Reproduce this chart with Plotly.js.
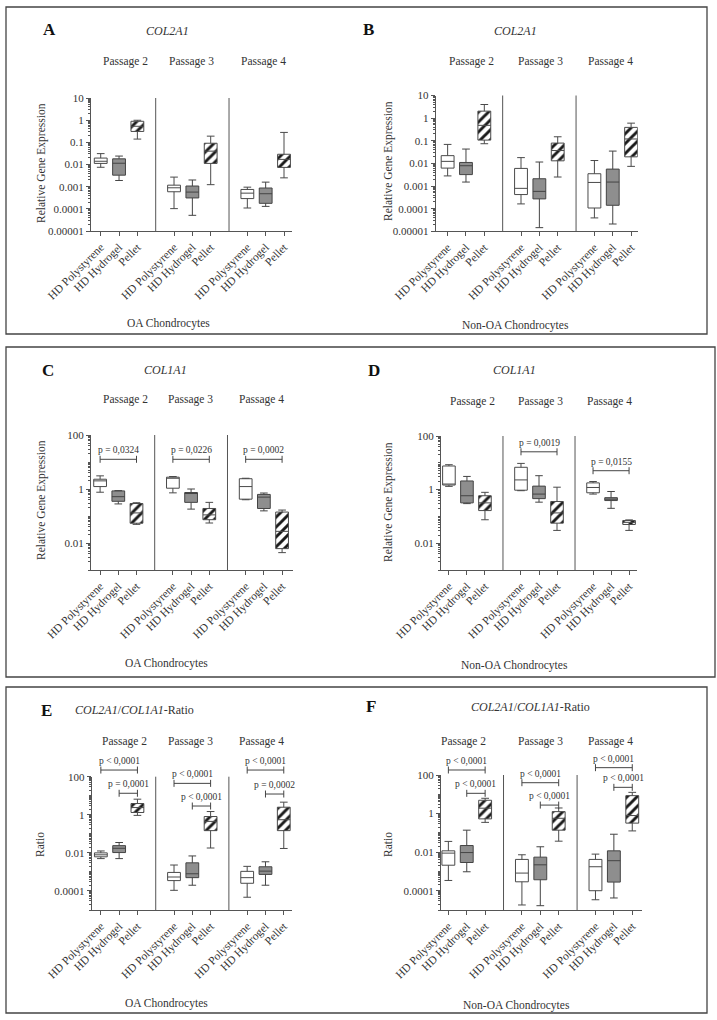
<!DOCTYPE html>
<html><head><meta charset="utf-8">
<script src="https://cdn.plot.ly/plotly-3.0.1.min.js"></script>
<style>html,body{margin:0;padding:0;background:#fff}#chart{width:717px;height:1020px}</style>
</head><body><div id="chart"></div>
<script>
// ---------------- data ----------------
const categories = ['HD Polystyrene', 'HD Hydrogel', 'Pellet'];
const passages = ['Passage 2', 'Passage 3', 'Passage 4'];
// each row: [lower whisker, Q1, median, Q3, upper whisker] for Passage 2, 3, 4

// A: COL2A1, OA chondrocytes
const A_polystyrene = [[0.0075, 0.0112, 0.014, 0.0195, 0.031], [0.000102, 0.00059, 0.00089, 0.00117, 0.0027], [0.000109, 0.00029, 0.00051, 0.00075, 0.00095]];
const A_hydrogel    = [[0.0019, 0.0033, 0.0114, 0.018, 0.024], [0.000051, 0.00031, 0.00057, 0.00107, 0.002], [0.000129, 0.000177, 0.00048, 0.00087, 0.0016]];
const A_pellet      = [[0.14, 0.31, 0.53, 0.89, 0.99], [0.00123, 0.0112, 0.04, 0.091, 0.19], [0.0025, 0.0074, 0.017, 0.029, 0.28]];
// B: COL2A1, non-OA chondrocytes
const B_polystyrene = [[0.0028, 0.0062, 0.0123, 0.022, 0.069], [0.000162, 0.00042, 0.00079, 0.006, 0.018], [0.000039, 0.000107, 0.00144, 0.0035, 0.0134]];
const B_hydrogel    = [[0.0015, 0.0032, 0.0079, 0.011, 0.043], [0.0000145, 0.00027, 0.00058, 0.0021, 0.0115], [0.000021, 0.000141, 0.0015, 0.0056, 0.035]];
const B_pellet      = [[0.074, 0.107, 0.48, 2.04, 4.0], [0.0025, 0.013, 0.037, 0.079, 0.15], [0.0074, 0.0195, 0.12, 0.39, 0.60]];
// C: COL1A1, OA chondrocytes
const C_polystyrene = [[0.76, 1.23, 2.0, 2.3, 3.07], [0.72, 1.07, 2.5, 2.74, 2.9], [0.40, 0.42, 1.23, 2.4, 2.5]];
const C_hydrogel    = [[0.28, 0.35, 0.52, 0.85, 0.87], [0.18, 0.32, 0.71, 0.74, 1.0], [0.155, 0.19, 0.5, 0.63, 0.71]];
const C_pellet      = [[0.049, 0.054, 0.13, 0.29, 0.31], [0.055, 0.073, 0.11, 0.19, 0.32], [0.0044, 0.0062, 0.027, 0.14, 0.166]];
// D: COL1A1, non-OA chondrocytes
const D_polystyrene = [[1.32, 1.48, 1.52, 7.6, 8.5], [0.91, 0.95, 2.3, 6.8, 9.5], [0.68, 0.76, 1.2, 1.78, 2.0]];
const D_hydrogel    = [[0.30, 0.32, 0.59, 2.1, 3.1], [0.34, 0.46, 0.68, 1.35, 3.3], [0.20, 0.39, 0.44, 0.50, 0.85]];
const D_pellet      = [[0.075, 0.165, 0.32, 0.59, 0.79], [0.030, 0.056, 0.135, 0.36, 1.23], [0.030, 0.050, 0.060, 0.07, 0.074]];
// E: COL2A1/COL1A1 ratio, OA chondrocytes
const E_polystyrene = [[0.005, 0.0062, 0.0079, 0.01, 0.0126], [0.000108, 0.00035, 0.00054, 0.00094, 0.0023], [0.0000468, 0.000253, 0.0005, 0.00107, 0.00196]];
const E_hydrogel    = [[0.005, 0.0104, 0.0174, 0.024, 0.035], [0.0002, 0.0005, 0.0008, 0.003, 0.0069], [0.0002, 0.00074, 0.0011, 0.00186, 0.0034]];
const E_pellet      = [[0.93, 1.32, 2.4, 3.9, 6.6], [0.018, 0.147, 0.45, 0.81, 1.48], [0.017, 0.147, 0.55, 2.5, 4.6]];
// F: COL2A1/COL1A1 ratio, non-OA chondrocytes
const F_polystyrene = [[0.00034, 0.0021, 0.0089, 0.0117, 0.036], [0.0000182, 0.00029, 0.00082, 0.0042, 0.0073], [0.000034, 0.0001, 0.00175, 0.0042, 0.0079]];
const F_hydrogel    = [[0.00096, 0.0029, 0.0095, 0.022, 0.138], [0.0000167, 0.00037, 0.0022, 0.0055, 0.019], [0.000042, 0.00028, 0.0036, 0.0117, 0.085]];
const F_pellet      = [[0.35, 0.53, 1.9, 4.9, 6.2], [0.037, 0.138, 0.57, 1.26, 1.95], [0.126, 0.32, 0.79, 8.5, 12.6]];

// significance labels: [first category index, last category index, text]
const C_pvalues = [[0, 2, 'p = 0,0324'], [4, 6, 'p = 0,0226'], [8, 10, 'p = 0,0002']];
const D_pvalues = [[4, 6, 'p = 0,0019'], [8, 10, 'p = 0,0155']];
const E_pvalues = [[0, 2, 'p < 0,0001'], [1, 2, 'p = 0,0001'], [4, 6, 'p < 0,0001'], [5, 6, 'p < 0,0001'], [8, 10, 'p < 0,0001'], [9, 10, 'p = 0,0002']];
const F_pvalues = [[0, 2, 'p < 0,0001'], [1, 2, 'p < 0,0001'], [4, 6, 'p < 0,0001'], [5, 6, 'p < 0,0001'], [8, 10, 'p < 0,0001'], [9, 10, 'p < 0,0001']];

const yTicks_AB = [0.00001, 0.0001, 0.001, 0.01, 0.1, 1, 10];
const yText_AB = ['0.00001', '0.0001', '0.001', '0.01', '0.1', '1', '10'];
const yTicks_CD = [0.01, 1, 100];
const yText_CD = ['0.01', '1', '100'];
const yTicks_EF = [0.0001, 0.01, 1, 100];
const yText_EF = ['0.0001', '0.01', '1', '100'];

// ---------------- layout config (pixels) ----------------
const W = 717, H = 1020;
const FONT = '"Liberation Serif", "Times New Roman", serif';
const AX = '#555';
const TXT = '#333';

const panels = [
  {letter: 'A', gene: '<i>COL2A1</i>', group: 'OA Chondrocytes', yTitle: 'Relative Gene Expression',
   data: [A_polystyrene, A_hydrogel, A_pellet], pv: [], pvLevels: [],
   dom: [91, 291.7, 98, 231], xr: [-0.53, 10.42], yr: [-5, 1], yt: yTicks_AB, ytx: yText_AB,
   letterPos: [49, 29], genePos: [167, 31], passX: [126, 192, 263], passY: 61, groupPos: [168, 323], yTitlePos: [41, 163]},
  {letter: 'B', gene: '<i>COL2A1</i>', group: 'Non-OA Chondrocytes', yTitle: 'Relative Gene Expression',
   data: [B_polystyrene, B_hydrogel, B_pellet], pv: [], pvLevels: [],
   dom: [435.7, 637.7, 95.5, 231.3], xr: [-0.65, 10.36], yr: [-5, 1], yt: yTicks_AB, ytx: yText_AB,
   letterPos: [369, 29], genePos: [515, 31], passX: [471, 540, 610], passY: 61, groupPos: [515, 325], yTitlePos: [388, 161]},
  {letter: 'C', gene: '<i>COL1A1</i>', group: 'OA Chondrocytes', yTitle: 'Relative Gene Expression',
   data: [C_polystyrene, C_hydrogel, C_pellet], pv: C_pvalues, pvLevels: [1.10, 1.10, 1.10],
   dom: [91, 293, 435, 570], xr: [-0.5, 10.6], yr: [-3, 2], yt: yTicks_CD, ytx: yText_CD,
   letterPos: [48, 370], genePos: [165, 370], passX: [126, 191, 261], passY: 400, groupPos: [166, 663], yTitlePos: [41, 500]},
  {letter: 'D', gene: '<i>COL1A1</i>', group: 'Non-OA Chondrocytes', yTitle: 'Relative Gene Expression',
   data: [D_polystyrene, D_hydrogel, D_pellet], pv: D_pvalues, pvLevels: [1.41, 0.705],
   dom: [441, 637, 436, 570], xr: [-0.44, 10.44], yr: [-3, 2], yt: yTicks_CD, ytx: yText_CD,
   letterPos: [374, 370], genePos: [514, 370], passX: [472, 540, 609], passY: 402, groupPos: [514, 665], yTitlePos: [388, 502]},
  {letter: 'E', gene: '<i>COL2A1</i>/<i>COL1A1</i>-Ratio', group: 'OA Chondrocytes', yTitle: 'Ratio',
   data: [E_polystyrene, E_hydrogel, E_pellet], pv: E_pvalues, pvLevels: [2.35, 1.13, 1.65, 0.46, 2.35, 1.09],
   dom: [91.7, 292, 776.7, 910], xr: [-0.5, 10.45], yr: [-5, 2], yt: yTicks_EF, ytx: yText_EF,
   letterPos: [46, 710], genePos: [134, 710], passX: [124, 190, 261], passY: 741, groupPos: [166, 1003], yTitlePos: [40, 845]},
  {letter: 'F', gene: '<i>COL2A1</i>/<i>COL1A1</i>-Ratio', group: 'Non-OA Chondrocytes', yTitle: 'Ratio',
   data: [F_polystyrene, F_hydrogel, F_pellet], pv: F_pvalues, pvLevels: [2.26, 1.05, 1.60, 0.44, 2.38, 1.36],
   dom: [441, 642, 775, 910], xr: [-0.4, 10.53], yr: [-5, 2], yt: yTicks_EF, ytx: yText_EF,
   letterPos: [371, 706], genePos: [530, 707], passX: [463, 540, 610], passY: 741, groupPos: [516, 1005], yTitlePos: [388, 845]}
];
const frames = [[6, 7, 707, 334], [6, 347, 715, 677], [6, 687, 707, 1013]];

const fills = ['#ffffff', '#8e8e8e', 'rgba(0,0,0,0)'];
const BOXW = 0.7;

const px = v => v / W;
const py = v => 1 - v / H;

const traces = [];
const layout = {
  width: W, height: H, margin: {l: 0, r: 0, t: 0, b: 0}, showlegend: false,
  paper_bgcolor: '#fff', plot_bgcolor: 'rgba(0,0,0,0)',
  font: {family: FONT, color: TXT, size: 11},
  barmode: 'overlay',
  shapes: [], annotations: []
};

function minorVals(r) {
  const out = [];
  for (let k = r[0]; k < r[1]; k++) for (let m = 1; m <= 9; m++) out.push(m * Math.pow(10, k));
  return out;
}

panels.forEach((p, k) => {
  const n = k + 1, s = n === 1 ? '' : String(n);
  const xa = 'x' + s, ya = 'y' + s;
  const tickvals = [], ticktext = [];
  passages.forEach((_, pi) => categories.forEach((c, ci) => { tickvals.push(pi * 4 + ci); ticktext.push(c); }));

  layout['xaxis' + s] = {
    domain: [px(p.dom[0]), px(p.dom[1])], range: p.xr, anchor: ya,
    showline: true, linecolor: AX, linewidth: 1, ticks: 'outside', ticklen: 4, tickcolor: AX, tickwidth: 1,
    tickvals: tickvals, ticktext: ticktext, tickangle: -45, tickfont: {family: FONT, size: 11.5, color: TXT},
    showgrid: false, zeroline: false, fixedrange: true
  };
  const mv = minorVals(p.yr).filter(v => !p.yt.some(t => Math.abs(Math.log10(t) - Math.log10(v)) < 1e-6));
  layout['yaxis' + s] = {
    domain: [py(p.dom[3]), py(p.dom[2])], type: 'log', range: p.yr, anchor: xa,
    showline: true, linecolor: AX, linewidth: 1, ticks: 'outside', ticklen: 4, tickcolor: AX, tickwidth: 1,
    tickvals: p.yt, ticktext: p.ytx, tickfont: {family: FONT, size: 11, color: TXT},
    minor: {tickvals: mv, ticks: 'outside', ticklen: 2, tickcolor: AX, tickwidth: 1, showgrid: false},
    showgrid: false, zeroline: false, fixedrange: true
  };

  // hatched pellet bodies (bars from Q1 to Q3)
  const pel = p.data[2];
  traces.push({
    type: 'bar', xaxis: xa, yaxis: ya, x: [2, 6, 10],
    base: pel.map(r => r[1]), y: pel.map(r => r[3] - r[1]), width: BOXW,
    marker: {color: '#fff', line: {width: 0}, pattern: {shape: '/', fgcolor: '#1a1a1a', bgcolor: '#fff', size: 7, solidity: 0.42}},
    hoverinfo: 'skip'
  });
  // boxes
  p.data.forEach((arr, ci) => {
    traces.push({
      type: 'box', xaxis: xa, yaxis: ya,
      x: arr.map((_, pi) => pi * 4 + ci),
      lowerfence: arr.map(r => r[0]), q1: arr.map(r => r[1]), median: arr.map(r => r[2]),
      q3: arr.map(r => r[3]), upperfence: arr.map(r => r[4]),
      width: BOXW, whiskerwidth: 0.6, boxpoints: false,
      fillcolor: fills[ci], line: {color: ci === 1 ? '#444' : '#4a4a4a', width: 1},
      hoverinfo: 'skip'
    });
  });

  // passage dividers
  [3, 7].forEach(xv => layout.shapes.push({type: 'line', xref: xa, yref: ya + ' domain', x0: xv, x1: xv, y0: 0, y1: 1, line: {color: AX, width: 1}}));

  // significance brackets
  const hPx = p.dom[3] - p.dom[2];
  const cap = 3.5 / hPx;
  p.pv.forEach((b, bi) => {
    const f = (p.pvLevels[bi] - p.yr[0]) / (p.yr[1] - p.yr[0]);
    const ln = {color: '#444', width: 1};
    layout.shapes.push({type: 'line', xref: xa, yref: ya + ' domain', x0: b[0], x1: b[1], y0: f, y1: f, line: ln});
    layout.shapes.push({type: 'line', xref: xa, yref: ya + ' domain', x0: b[0], x1: b[0], y0: f - cap, y1: f + cap, line: ln});
    layout.shapes.push({type: 'line', xref: xa, yref: ya + ' domain', x0: b[1], x1: b[1], y0: f - cap, y1: f + cap, line: ln});
    layout.annotations.push({xref: xa, yref: ya + ' domain', x: (b[0] + b[1]) / 2, y: f, yshift: 2,
      text: b[2], showarrow: false, xanchor: 'center', yanchor: 'bottom', font: {family: FONT, size: 9.5, color: TXT}});
  });

  // text
  const ann = (x, y, text, size, extra) => layout.annotations.push(Object.assign({
    xref: 'paper', yref: 'paper', x: px(x), y: py(y), text: text, showarrow: false,
    xanchor: 'center', yanchor: 'middle', font: {family: FONT, size: size, color: TXT}}, extra || {}));
  ann(p.letterPos[0], p.letterPos[1], '<b>' + p.letter + '</b>', 17, {font: {family: FONT, size: 17, color: '#111'}});
  ann(p.genePos[0], p.genePos[1], p.gene, 12);
  p.passX.forEach((x, i) => ann(x, p.passY, passages[i], 11.5));
  ann(p.groupPos[0], p.groupPos[1], p.group, 11.5);
  ann(p.yTitlePos[0], p.yTitlePos[1], p.yTitle, 11.5, {textangle: -90});
});

frames.forEach(f => layout.shapes.push({type: 'rect', xref: 'paper', yref: 'paper',
  x0: px(f[0]), x1: px(f[2]), y0: py(f[3]), y1: py(f[1]), line: {color: '#444', width: 1.3}}));

Plotly.newPlot('chart', traces, layout, {staticPlot: true, displayModeBar: false});
</script></body></html>
